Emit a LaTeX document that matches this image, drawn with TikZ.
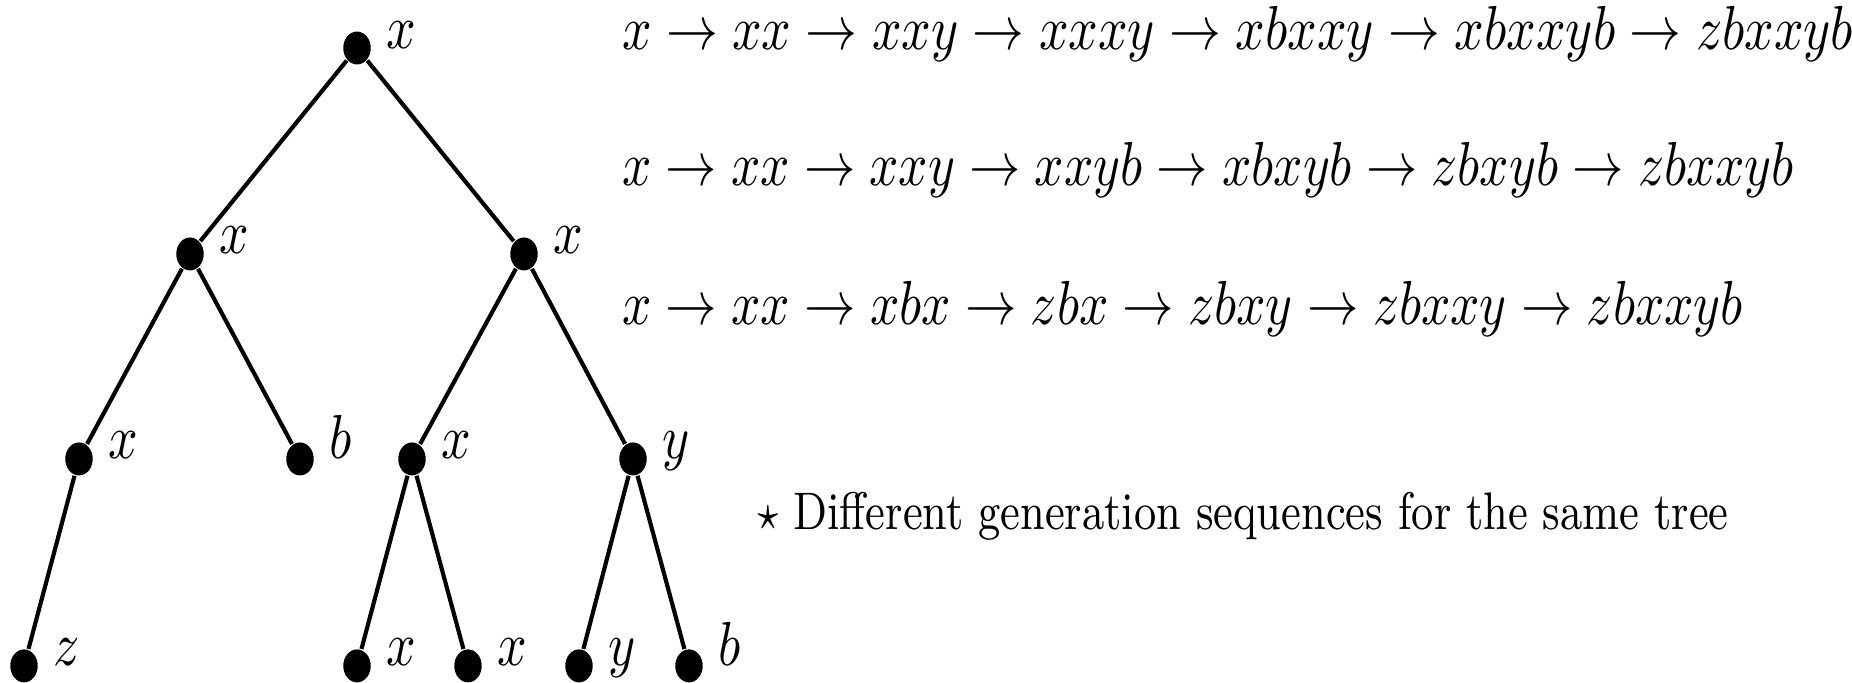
\documentclass[tikz,border=0pt]{standalone}
\begin{document}
\begin{tikzpicture}[x=0.193pt, y=0.1608pt, yscale=1.2, transform shape,
    dot/.style={circle, fill=black, inner sep=0pt, minimum size=5.3pt},
    lbl/.style={anchor=base west, inner sep=0pt},
    edge/.style={line width=0.8pt},
    seq/.style={anchor=base west, inner sep=0pt}]
  \useasboundingbox (0,0) rectangle (1852,683);
  % tree
  \foreach \n/\px/\py/\t in {r/357/635/x, a/190/429/x, b/524/429/x,
      aa/79/224/x, ab/300/224/b, ba/412/224/x, bb/633/224/y,
      aaa/24/17/z, baa/357/17/x, bab/468/17/x, bba/579/17/y, bbb/689/17/b} {
    \node[dot] (\n) at (\px,\py) {};
    \node[lbl] (\n-l) at (\px+28,\py) {$\t$};
  }
  \foreach \p/\c in {r/a, r/b, a/aa, a/ab, b/ba, b/bb,
      aa/aaa, ba/baa, ba/bab, bb/bba, bb/bbb}
    \draw[edge] (\p) -- (\c);
  % generation sequences
  \node[seq] (s1) at (621,633) {$x \rightarrow xx \rightarrow xxy \rightarrow xxxy \rightarrow xbxxy \rightarrow xbxxyb \rightarrow zbxxyb$};
  \node[seq, xscale=0.99] (s2) at (621,497) {$x \rightarrow xx \rightarrow xxy \rightarrow xxyb \rightarrow xbxyb \rightarrow zbxyb \rightarrow zbxxyb$};
  \node[seq, xscale=0.992] (s3) at (621,358) {$x \rightarrow xx \rightarrow xbx \rightarrow zbx \rightarrow zbxy \rightarrow zbxxy \rightarrow zbxxyb$};
  \node[seq, xscale=0.983] (note) at (756,153) {\fontsize{8.5}{10}\selectfont $\star$ Different generation sequences for the same tree};
\end{tikzpicture}
\end{document}
